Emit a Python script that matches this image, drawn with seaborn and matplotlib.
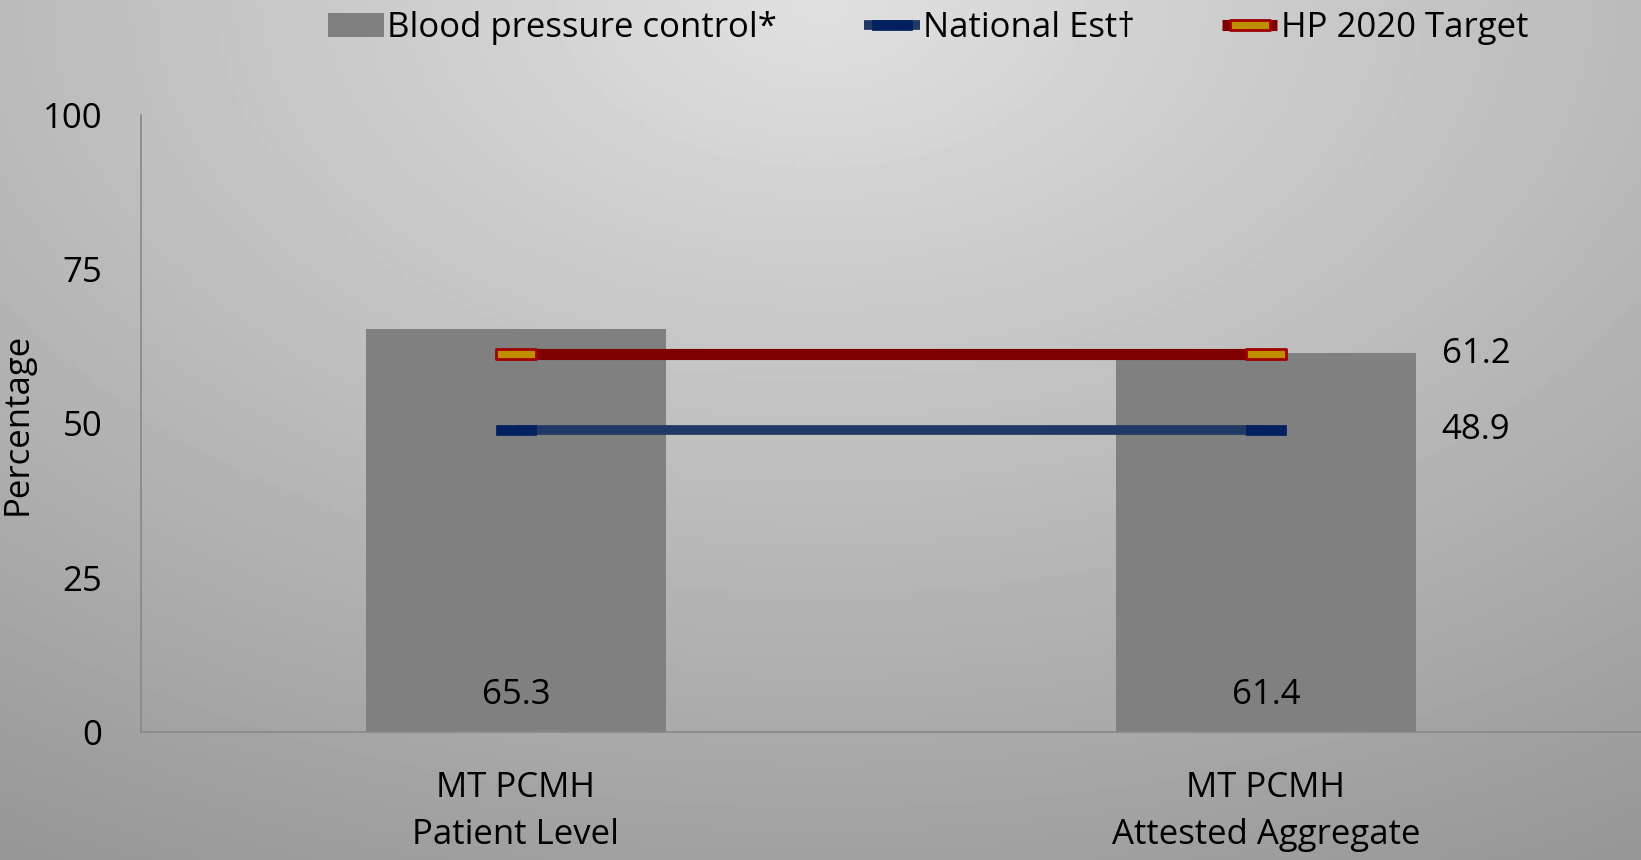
import matplotlib.pyplot as plt
import matplotlib.path as mpath
from matplotlib.patches import Patch
import seaborn as sns
import numpy as np
import pandas as pd

# данные с картинки
categories = ['MT PCMH\nPatient Level', 'MT PCMH\nAttested Aggregate']
bp_control = [65.3, 61.4]
national_est = [48.9, 48.9]
hp2020_target = [61.2, 61.2]

sns.set_style('white')
plt.rcParams['font.family'] = ['Open Sans', 'DejaVu Sans']
plt.rcParams['text.color'] = 'black'
plt.rcParams['xtick.color'] = 'black'
plt.rcParams['ytick.color'] = 'black'
plt.rcParams['axes.labelcolor'] = 'black'

fig = plt.figure(figsize=(16.41, 8.60), dpi=100)

# фон с градиентом
bg = fig.add_axes([0, 0, 1, 1], zorder=-10)
yy, xx = np.mgrid[0:1:200j, 0:1:400j]
dist = np.sqrt(((xx - 0.5) * 1.2) ** 2 + (yy * 1.0) ** 2)
shade = 0.88 - 0.30 * np.clip(dist, 0, 1.2) / 1.2
bg.imshow(shade, cmap='gray', vmin=0, vmax=1, aspect='auto', extent=[0, 1, 1, 0])
bg.axis('off')

ax = fig.add_axes([141 / 1641, 128 / 860, 1 - 141 / 1641, (732 - 115) / 860])
ax.patch.set_alpha(0)

df = pd.DataFrame({'cat': categories, 'val': bp_control})
sns.barplot(data=df, x='cat', y='val', color='#808080', saturation=1, width=0.4, ax=ax,
            edgecolor='none', linewidth=0)

rect = mpath.Path([(-2, -0.5), (2, -0.5), (2, 0.5), (-2, 0.5), (-2, -0.5)],
                  [1, 2, 2, 2, 79])

x = [0, 1]
l1, = ax.plot(x, national_est, color='#1f3864', lw=7, marker=rect, markersize=29,
              markerfacecolor='#002060', markeredgecolor='#002060', markeredgewidth=0.5,
              solid_capstyle='butt')
l2, = ax.plot(x, hp2020_target, color='#7f0000', lw=8, marker=rect, markersize=29,
              markerfacecolor='#bf8f00', markeredgecolor='#a00000', markeredgewidth=2,
              solid_capstyle='butt')

for i, v in enumerate(bp_control):
    ax.text(i, 6, f'{v}', ha='center', va='center', fontsize=25)
ax.text(1.28, hp2020_target[1], f'{hp2020_target[1]}', ha='center', va='center', fontsize=25)
ax.text(1.28, national_est[1], f'{national_est[1]}', ha='center', va='center', fontsize=25)

ax.set_xlim(-0.5, 1.5)
ax.set_ylim(0, 100)
ax.set_yticks([0, 25, 50, 75, 100])
ax.set_xticks([0, 1])
ax.set_xticklabels(categories, fontsize=25, linespacing=1.5)
ax.set_xticks([-0.5, 0.5, 1.5], minor=True)
ax.tick_params(axis='y', labelsize=25, length=12, width=1.2, color='#888888', direction='out', pad=16)
ax.tick_params(axis='x', which='major', length=0, pad=28)
ax.tick_params(axis='x', which='minor', length=12, width=1.2, color='#888888', direction='out')
ax.set_xlabel('')
ax.set_ylabel('Percentage', fontsize=25, labelpad=6)
for s in ['top', 'right']:
    ax.spines[s].set_visible(False)
for s in ['left', 'bottom']:
    ax.spines[s].set_color('#888888')
    ax.spines[s].set_linewidth(1.2)

bar_handle = Patch(facecolor='#808080', edgecolor='none')
ax.legend([bar_handle, l1, l2], ['Blood pressure control*', 'National Est\u2020', 'HP 2020 Target'],
          loc='center', bbox_to_anchor=(887 / 1568, 1 - 27 / 822),
          bbox_transform=fig.transFigure, ncol=3, frameon=False, fontsize=25,
          handlelength=1.6, handletextpad=0.1, columnspacing=2.5)

plt.savefig('out.png', dpi=100)
